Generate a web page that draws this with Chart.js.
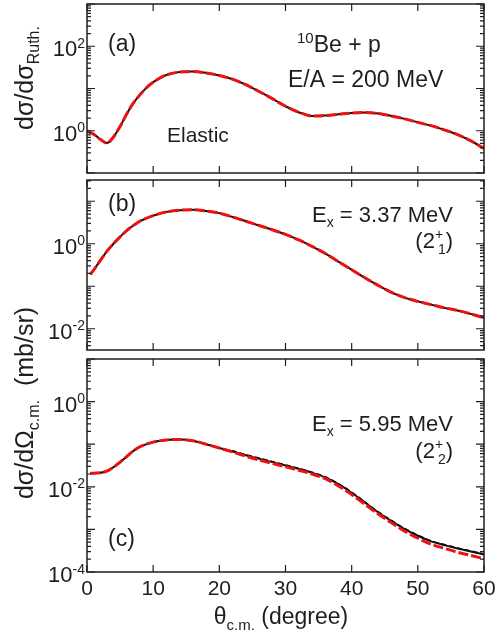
<!DOCTYPE html>
<html>
<head>
<meta charset="utf-8">
<script src="https://cdn.jsdelivr.net/npm/chart.js@4.4.1/dist/chart.umd.min.js"></script>
<style>
  body { margin: 0; background: #fff; }
  #wrap { position: relative; width: 496px; height: 636px; }
  canvas { position: absolute; left: 0; top: 0; }
</style>
</head>
<body>
<div id="wrap">
  <canvas id="pa" width="496" height="636"></canvas>
  <canvas id="pb" width="496" height="636"></canvas>
  <canvas id="pc" width="496" height="636"></canvas>
</div>
<script>
// (a) elastic, ratio to Rutherford
const angA = [0, 1, 2, 3, 4, 5, 6, 7, 8, 9, 10, 12, 14, 16, 18, 20, 22, 24, 26, 28, 30, 32, 34, 36, 38, 40, 42, 44, 46, 48, 50, 52, 54, 56, 58, 60];
const elastic = [1.00, 0.83, 0.63, 0.51, 0.71, 1.26, 2.5, 4.5, 7.1, 10.5, 14.1, 20.9, 24.5, 25.1, 23.4, 20.4, 16.6, 12.3, 8.5, 5.75, 3.8, 2.75, 2.24, 2.29, 2.45, 2.63, 2.69, 2.57, 2.24, 1.91, 1.58, 1.32, 1.05, 0.81, 0.58, 0.38];

// (b) Ex = 3.37 MeV (2+1), mb/sr
const angB = [0.5, 1, 2, 3, 4, 5, 6, 7, 8, 10, 12, 14, 16, 18, 20, 22, 24, 26, 28, 30, 32, 34, 36, 38, 40, 42, 44, 46, 48, 50, 52, 54, 56, 58, 60];
const state21 = [0.19, 0.24, 0.40, 0.66, 1.00, 1.45, 2.04, 2.69, 3.39, 4.57, 5.62, 6.17, 6.31, 5.89, 5.25, 4.27, 3.39, 2.69, 2.14, 1.66, 1.23, 0.87, 0.59, 0.38, 0.245, 0.158, 0.105, 0.072, 0.054, 0.044, 0.037, 0.031, 0.027, 0.0224, 0.018];

// (c) Ex = 5.95 MeV (2+2), mb/sr
const angC = [0.5, 1, 2, 3, 4, 5, 6, 7, 8, 10, 12, 14, 16, 18, 20, 22, 24, 26, 28, 30, 32, 34, 36, 38, 40, 42, 44, 46, 48, 50, 52, 54, 56, 58, 60];
const state22 = [0.0209, 0.0209, 0.0214, 0.0234, 0.0288, 0.038, 0.0513, 0.0692, 0.0871, 0.112, 0.126, 0.129, 0.120, 0.100, 0.0813, 0.0676, 0.055, 0.0457, 0.038, 0.0316, 0.0263, 0.0214, 0.0166, 0.0115, 0.00724, 0.00427, 0.00251, 0.00158, 0.00102, 0.00071, 0.000525, 0.000427, 0.000355, 0.000302, 0.000257];
const state22Dash = [0.0209, 0.0209, 0.0214, 0.0234, 0.0288, 0.038, 0.0513, 0.0692, 0.0871, 0.112, 0.126, 0.129, 0.120, 0.100, 0.0813, 0.070, 0.0569, 0.0473, 0.0393, 0.0327, 0.0272, 0.0221, 0.0172, 0.0119, 0.0075, 0.00442, 0.0026, 0.00164, 0.00106, 0.000735, 0.000543, 0.000442, 0.000367, 0.000313, 0.000266];
const state22Red = [0.0209, 0.0209, 0.0214, 0.0234, 0.0288, 0.038, 0.0513, 0.0692, 0.0871, 0.112, 0.126, 0.129, 0.120, 0.100, 0.0813, 0.066, 0.0525, 0.0427, 0.0355, 0.0295, 0.0245, 0.020, 0.0155, 0.0105, 0.0066, 0.0039, 0.00229, 0.00144, 0.00091, 0.00062, 0.00045, 0.00036, 0.00029, 0.000245, 0.000205];

const xTicks = [0, 10, 20, 30, 40, 50, 60];

const FONT = '"Liberation Sans", Arial, sans-serif';
const INK = '#1e1e1e';

function pts(xs, ys) {
  return xs.map((x, i) => ({ x: x, y: ys[i] }));
}

// text with sup/sub parts
function partWidth(ctx, p, size) {
  const small = Math.round(size * 0.65);
  if (p.t !== undefined && !p.sub && !p.sup) {
    ctx.font = size + 'px ' + FONT;
    return ctx.measureText(p.t).width;
  }
  ctx.font = small + 'px ' + FONT;
  if (p.t !== undefined) return ctx.measureText(p.t).width;
  return Math.max(ctx.measureText(p.sup).width, ctx.measureText(p.sub).width + 3);
}

function drawRich(ctx, parts, x, y, size, align) {
  const small = Math.round(size * 0.65);
  let w = 0;
  parts.forEach(p => { w += partWidth(ctx, p, size); });
  let cx = align === 'right' ? x - w : align === 'center' ? x - w / 2 : x;
  ctx.textAlign = 'left';
  ctx.textBaseline = 'alphabetic';
  ctx.fillStyle = INK;
  parts.forEach(p => {
    const pw = partWidth(ctx, p, size);
    if (p.t !== undefined && !p.sub && !p.sup) {
      ctx.font = size + 'px ' + FONT;
      ctx.fillText(p.t, cx, y);
    } else if (p.t !== undefined) {
      ctx.font = small + 'px ' + FONT;
      ctx.fillText(p.t, cx, p.sup ? y - size * 0.38 : y + size * 0.24);
    } else {
      ctx.font = small + 'px ' + FONT;
      ctx.fillText(p.sup, cx, y - size * 0.42);
      ctx.fillText(p.sub, cx + 3, y + size * 0.26);
    }
    cx += pw;
  });
}

const framePlugin = {
  id: 'frame',
  afterDraw(chart, args, opts) {
    const ctx = chart.ctx;
    const a = chart.chartArea;
    const xs = chart.scales.x, ys = chart.scales.y;
    ctx.save();
    ctx.strokeStyle = INK;
    ctx.lineWidth = 1.5;
    ctx.strokeRect(a.left, a.top, a.right - a.left, a.bottom - a.top);

    // x ticks, inward top and bottom
    ctx.lineWidth = 1.2;
    ctx.beginPath();
    xTicks.forEach(v => {
      const px = xs.getPixelForValue(v);
      ctx.moveTo(px, a.bottom); ctx.lineTo(px, a.bottom - 7);
      ctx.moveTo(px, a.top); ctx.lineTo(px, a.top + 7);
    });
    // log ticks, inward left and right
    const lo = Math.floor(Math.log10(ys.min)), hi = Math.ceil(Math.log10(ys.max));
    for (let d = lo; d <= hi; d++) {
      for (let k = 1; k <= 9; k++) {
        const v = k * Math.pow(10, d);
        if (v < ys.min * 0.999 || v > ys.max * 1.001) continue;
        const py = ys.getPixelForValue(v);
        const len = k === 1 ? 8 : 4;
        ctx.moveTo(a.left, py); ctx.lineTo(a.left + len, py);
        ctx.moveTo(a.right, py); ctx.lineTo(a.right - len, py);
      }
    }
    ctx.stroke();

    // y tick labels 10^n
    opts.exps.forEach(e => {
      const py = ys.getPixelForValue(Math.pow(10, e));
      drawRich(ctx, [{ t: '10' }, { t: String(e), sup: 1 }], 85, py + 10, 22, 'right');
    });

    // x tick labels only on the bottom panel
    if (opts.xLabels) {
      ctx.font = '21px ' + FONT;
      ctx.fillStyle = INK;
      ctx.textAlign = 'center';
      ctx.textBaseline = 'alphabetic';
      xTicks.forEach(v => ctx.fillText(String(v), xs.getPixelForValue(v), a.bottom + 23));
    }

    (opts.notes || []).forEach(n => drawRich(ctx, n.parts, n.x, n.y, n.size, n.align));

    (opts.vtitles || []).forEach(n => {
      ctx.save();
      ctx.translate(n.x, n.y);
      ctx.rotate(-Math.PI / 2);
      drawRich(ctx, n.parts, 0, 0, n.size, 'center');
      ctx.restore();
    });
    ctx.restore();
  }
};

function makePanel(id, top, bottom, yMin, yMax, datasets, frameOpts) {
  return new Chart(document.getElementById(id), {
    type: 'line',
    data: { datasets: datasets },
    options: {
      responsive: false,
      animation: false,
      events: [],
      layout: { padding: { left: 87, right: 12, top: top, bottom: 636 - bottom } },
      elements: { point: { radius: 0 }, line: { cubicInterpolationMode: 'monotone' } },
      scales: {
        x: { type: 'linear', min: 0, max: 60, display: false },
        y: { type: 'logarithmic', min: yMin, max: yMax, display: false }
      },
      plugins: { legend: { display: false }, tooltip: { enabled: false }, frame: frameOpts }
    },
    plugins: [framePlugin]
  });
}

function blackLine(data) {
  return { data: data, borderColor: '#111', borderWidth: 2, fill: false, order: 2 };
}
function redDash(data) {
  return { data: data, borderColor: '#ee1111', borderWidth: 3, borderDash: [10, 3], fill: false, order: 0 };
}

makePanel('pa', 4, 173, 0.1, 1000, [
  redDash(pts(angA, elastic)),
  blackLine(pts(angA, elastic))
], {
  exps: [2, 0],
  notes: [
    { parts: [{ t: '(a)' }], x: 108, y: 51, size: 23, align: 'left' },
    { parts: [{ t: '10', sup: 1 }, { t: 'Be + p' }], x: 297, y: 52, size: 23, align: 'left' },
    { parts: [{ t: 'E/A = 200 MeV' }], x: 288, y: 87, size: 23, align: 'left' },
    { parts: [{ t: 'Elastic' }], x: 167, y: 142, size: 21, align: 'left' }
  ],
  vtitles: [
    { parts: [{ t: 'dσ/dσ' }, { t: 'Ruth.', sub: 1 }], x: 33, y: 78, size: 25 }
  ]
});

makePanel('pb', 180, 350, Math.pow(10, -2.5), Math.pow(10, 1.5), [
  redDash(pts(angB, state21)),
  blackLine(pts(angB, state21))
], {
  exps: [0, -2],
  notes: [
    { parts: [{ t: '(b)' }], x: 108, y: 211, size: 23, align: 'left' },
    { parts: [{ t: 'E' }, { t: 'x', sub: 1 }, { t: ' = 3.37 MeV' }], x: 453, y: 222, size: 22, align: 'right' },
    { parts: [{ t: '(2' }, { sup: '+', sub: '1' }, { t: ')' }], x: 453, y: 248, size: 22, align: 'right' }
  ],
  vtitles: [
    { parts: [{ t: 'dσ/dΩ' }, { t: 'c.m.', sub: 1 }, { t: '  (mb/sr)' }], x: 33, y: 403, size: 25 }
  ]
});

makePanel('pc', 359, 572, 1e-4, 10, [
  redDash(pts(angC, state22Red)),
  Object.assign(blackLine(pts(angC, state22Dash)), { borderDash: [5, 3], borderWidth: 1.5, order: 1 }),
  blackLine(pts(angC, state22))
], {
  exps: [0, -2, -4],
  xLabels: true,
  notes: [
    { parts: [{ t: '(c)' }], x: 108, y: 546, size: 23, align: 'left' },
    { parts: [{ t: 'E' }, { t: 'x', sub: 1 }, { t: ' = 5.95 MeV' }], x: 453, y: 431, size: 22, align: 'right' },
    { parts: [{ t: '(2' }, { sup: '+', sub: '2' }, { t: ')' }], x: 453, y: 458, size: 22, align: 'right' },
    { parts: [{ t: 'θ' }, { t: 'c.m.', sub: 1 }, { t: ' (degree)' }], x: 281, y: 624, size: 23, align: 'center' }
  ]
});
</script>
</body>
</html>
